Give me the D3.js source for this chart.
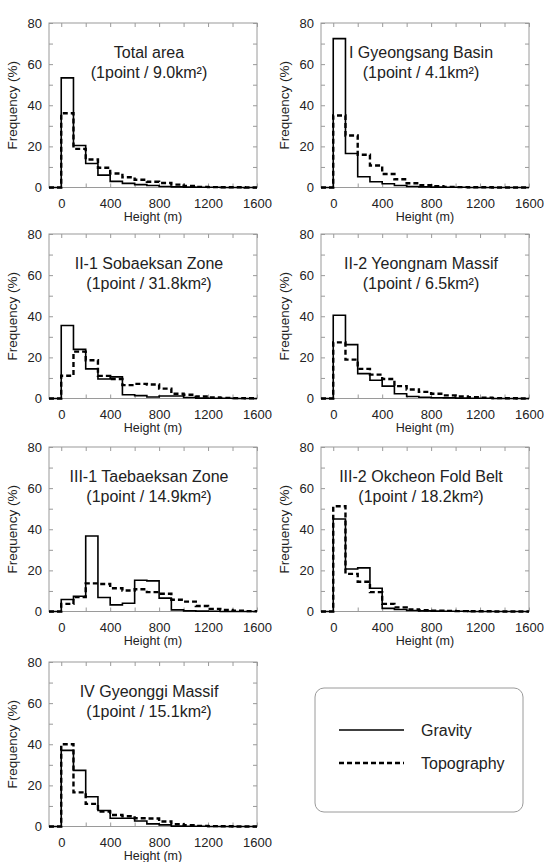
<!DOCTYPE html>
<html>
<head>
<meta charset="utf-8">
<script src="https://cdn.jsdelivr.net/npm/d3@7"></script>
<style>
  body { margin: 0; background: #fff; }
  svg { display: block; font-family: "Liberation Sans", Arial, sans-serif; }
</style>
</head>
<body>
<svg id="chart" width="544" height="862"></svg>
<script>
// bin starts (m), each bin 100 m wide
var bins = [0, 100, 200, 300, 400, 500, 600, 700, 800, 900, 1000, 1100, 1200, 1300, 1400, 1500];

var titles = ["Total area", "I Gyeongsang Basin", "II-1 Sobaeksan Zone", "II-2 Yeongnam Massif",
              "III-1 Taebaeksan Zone", "III-2 Okcheon Fold Belt", "IV Gyeonggi Massif"];
var density = ["9.0", "4.1", "31.8", "6.5", "14.9", "18.2", "15.1"];

var gravityTotal = [53.3, 20.4, 11.7, 6.0, 3.0, 2.0, 1.4, 1.0, 0.5, 0.3, 0.2, 0.1, 0.1, 0, 0, 0];
var topoTotal    = [36.1, 18.8, 13.6, 9.6, 6.8, 5.0, 3.8, 2.8, 2.2, 1.4, 0.7, 0.3, 0.2, 0.1, 0.1, 0];

var gravityGyeongsang = [72.4, 16.5, 5.2, 2.8, 1.8, 1.0, 0.5, 0.3, 0.2, 0.1, 0.1, 0, 0, 0, 0, 0];
var topoGyeongsang    = [35.0, 25.3, 15.9, 10.7, 6.6, 4.0, 2.1, 1.1, 0.6, 0.3, 0.2, 0.1, 0.1, 0, 0, 0];

var gravitySobaeksan = [35.5, 23.9, 14.4, 9.5, 10.5, 1.8, 1.4, 0.7, 1.2, 1.2, 0.5, 0.2, 0.1, 0.1, 0, 0];
var topoSobaeksan    = [11.1, 22.8, 18.6, 11.0, 9.5, 6.5, 7.1, 6.8, 4.8, 2.3, 1.8, 1.0, 0.5, 0.3, 0.2, 0.1];

var gravityYeongnam = [40.5, 26.2, 12.1, 8.9, 6.0, 2.3, 1.0, 0.6, 0.4, 0.3, 0.2, 0.1, 0.1, 0, 0, 0];
var topoYeongnam    = [27.3, 18.9, 14.4, 11.6, 9.5, 6.0, 4.4, 3.2, 2.3, 1.5, 1.0, 0.6, 0.4, 0.2, 0.1, 0];

var gravityTaebaeksan = [5.8, 7.4, 36.7, 6.8, 3.2, 4.0, 15.2, 14.9, 6.5, 0.8, 0.3, 0.2, 0.1, 0, 0, 0];
var topoTaebaeksan    = [3.7, 7.0, 13.7, 13.4, 11.3, 10.2, 10.8, 9.4, 8.6, 5.7, 4.8, 2.7, 1.3, 0.8, 0.4, 0.2];

var gravityOkcheon = [45.0, 20.7, 21.2, 11.3, 1.5, 1.0, 0.5, 0.3, 0.2, 0.1, 0.1, 0, 0, 0, 0, 0];
var topoOkcheon    = [51.2, 18.3, 14.5, 9.4, 3.7, 2.0, 1.0, 0.6, 0.4, 0.3, 0.2, 0.1, 0.1, 0, 0, 0];

var gravityGyeonggi = [37.0, 27.3, 14.5, 7.8, 4.0, 4.0, 2.7, 1.3, 0.8, 0.2, 0.1, 0.1, 0, 0, 0, 0];
var topoGyeonggi    = [40.0, 16.6, 11.0, 7.3, 5.6, 5.0, 4.0, 3.9, 2.4, 1.1, 0.6, 0.3, 0.2, 0.1, 0, 0];

var gravitySeries = [gravityTotal, gravityGyeongsang, gravitySobaeksan, gravityYeongnam,
                     gravityTaebaeksan, gravityOkcheon, gravityGyeonggi];
var topoSeries = [topoTotal, topoGyeongsang, topoSobaeksan, topoYeongnam,
                  topoTaebaeksan, topoOkcheon, topoGyeonggi];

var legendLabels = ["Gravity", "Topography"];

var xTicks = [0, 200, 400, 600, 800, 1000, 1200, 1400, 1600];
var yTicks = [0, 10, 20, 30, 40, 50, 60, 70, 80];

// layout
var colLeft = [49, 321];
var rowTop = [23, 234, 447, 662];
var plotW = 208, plotH = 164.5;
var textColor = "#222", frameColor = "#9a9a9a";

var svg = d3.select("#chart");

var line = d3.line().curve(d3.curveStepAfter);

function stepPoints(vals) {
    var pts = [[-100, 0]];
    bins.forEach(function (b, i) { pts.push([b, vals[i]]); });
    pts.push([1600, vals[vals.length - 1]]);
    return pts;
}

titles.forEach(function (title, i) {
    var col = i % 2, row = Math.floor(i / 2);
    var g = svg.append("g").attr("transform", "translate(" + colLeft[col] + "," + rowTop[row] + ")");
    var x = d3.scaleLinear().domain([-100, 1600]).range([0, plotW]);
    var y = d3.scaleLinear().domain([0, 80]).range([plotH, 0]);

    g.append("rect").attr("width", plotW).attr("height", plotH)
        .attr("fill", "none").attr("stroke", frameColor).attr("stroke-width", 1);

    var bottom = g.append("g").attr("transform", "translate(0," + plotH + ")")
        .call(d3.axisBottom(x).tickValues(xTicks).tickSize(-4).tickPadding(11.5)
            .tickFormat(function (d) { return d % 400 === 0 ? d : ""; }));
    var top = g.append("g")
        .call(d3.axisTop(x).tickValues(xTicks).tickSize(-4).tickFormat(""));
    var left = g.append("g")
        .call(d3.axisLeft(y).tickValues(yTicks).tickSize(-4).tickPadding(7)
            .tickFormat(function (d) { return d % 20 === 0 ? d : ""; }));
    var right = g.append("g").attr("transform", "translate(" + plotW + ",0)")
        .call(d3.axisRight(y).tickValues(yTicks).tickSize(-4).tickFormat(""));

    [bottom, top, left, right].forEach(function (a) {
        a.select(".domain").remove();
        a.selectAll(".tick line").attr("stroke", frameColor);
        a.selectAll(".tick text").attr("fill", textColor).attr("font-size", 13)
            .attr("font-family", "'Liberation Sans', Arial, sans-serif");
    });

    g.append("text").attr("x", plotW / 2).attr("y", plotH + 33)
        .attr("text-anchor", "middle").attr("font-size", 12.5).attr("fill", textColor)
        .text("Height (m)");
    g.append("text").attr("transform", "translate(-37," + (plotH / 2) + ") rotate(-90)")
        .attr("text-anchor", "middle").attr("dy", "0.35em").attr("font-size", 13.5).attr("fill", textColor)
        .text("Frequency (%)");

    g.append("text").attr("x", plotW / 2 - 4).attr("y", 35)
        .attr("text-anchor", "middle").attr("font-size", 16).attr("fill", textColor)
        .text(title);
    g.append("text").attr("x", plotW / 2 - 4).attr("y", 55)
        .attr("text-anchor", "middle").attr("font-size", 16).attr("fill", textColor)
        .text("(1point / " + density[i] + "km\u00B2)");

    g.append("path").attr("d", line(stepPoints(gravitySeries[i]).map(function (p) { return [x(p[0]), y(p[1])]; })))
        .attr("fill", "none").attr("stroke", "#000").attr("stroke-width", 1.6);
    g.append("path").attr("d", line(stepPoints(topoSeries[i]).map(function (p) { return [x(p[0]), y(p[1])]; })))
        .attr("fill", "none").attr("stroke", "#000").attr("stroke-width", 2.4)
        .attr("stroke-dasharray", "5,3");
});

// legend
var lg = svg.append("g").attr("transform", "translate(315,688)");
lg.append("rect").attr("width", 208).attr("height", 124).attr("rx", 9).attr("ry", 9)
    .attr("fill", "none").attr("stroke", frameColor).attr("stroke-width", 1);
legendLabels.forEach(function (lab, i) {
    var yy = 42 + i * 33;
    lg.append("line").attr("x1", 24).attr("x2", 89).attr("y1", yy).attr("y2", yy)
        .attr("stroke", "#000").attr("stroke-width", i === 0 ? 1.6 : 2.4)
        .attr("stroke-dasharray", i === 0 ? null : "5,3");
    lg.append("text").attr("x", 106).attr("y", yy).attr("dy", "0.35em")
        .attr("font-size", 16).attr("fill", textColor).text(lab);
});
</script>
</body>
</html>
